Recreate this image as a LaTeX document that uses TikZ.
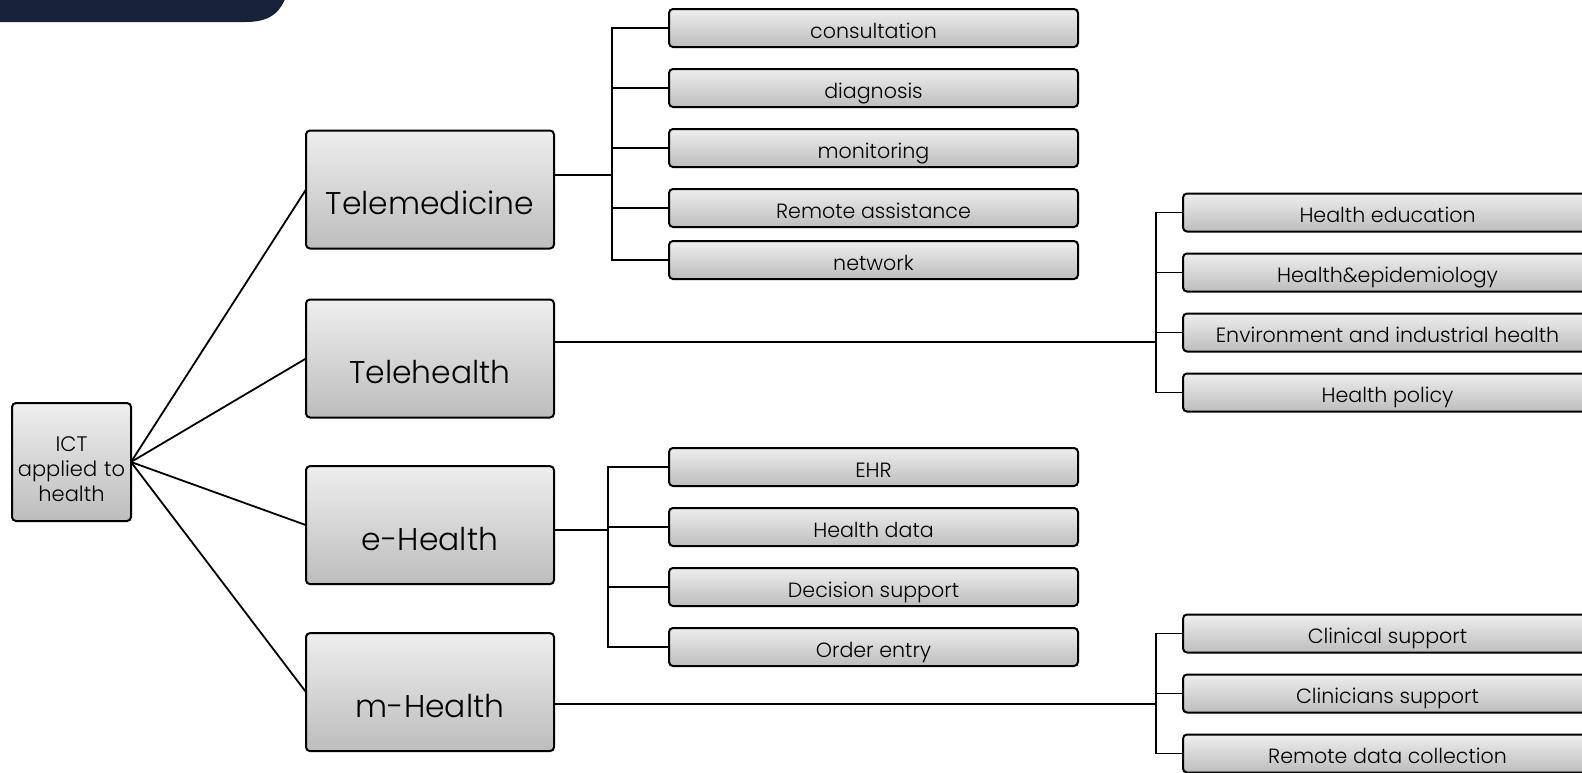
\documentclass[tikz,border=0pt]{standalone}
\usepackage{fontspec}
\setmainfont{Poppins Light}
\usetikzlibrary{positioning,shadings}

\definecolor{navy}{HTML}{16213A}
\definecolor{boxtop}{HTML}{EEEEEE}
\definecolor{boxbot}{HTML}{BDBDBD}

\tikzstyle{box} = [rectangle, rounded corners=2pt, draw=black, line width=1pt, top color=boxtop, bottom color=boxbot, inner sep=0pt, outer sep=0pt, text centered]
\tikzstyle{rootbox} = [box, minimum width=59.5pt, minimum height=59pt, text width=58pt, text depth=18pt, font=\fontsize{10.5}{12.5}\selectfont]
\tikzstyle{mainbox} = [box, minimum width=124pt, minimum height=59pt, text height=25pt, text depth=0pt, font=\fontsize{15.7}{18}\selectfont]
\tikzstyle{subbox} = [box, minimum width=204.5pt, minimum height=19pt, text height=10.3pt, text depth=0pt, font=\fontsize{10.3}{12}\selectfont]

\begin{document}
\begin{tikzpicture}[x=0.5pt,y=-0.5pt,node distance=30pt,line width=0.9pt]
\useasboundingbox (0,0) rectangle (1582,772);
\clip (0,0) rectangle (1582,772);

% title bar corner
\fill[navy] (0,-10) -- (288,-10) .. controls (282,14) and (268,22) .. (246,22) -- (0,22) -- cycle;

\node[rootbox] (ict) at (71.5,462) {ICT\\applied to\\health};

\node[mainbox] (tm) at (430,189.5) {Telemedicine};
\node[mainbox] (th) [below of=tm, node distance=84.5pt] {Telehealth};
\node[mainbox] (eh) [below of=th, node distance=83.3pt] {e-Health};
\node[mainbox] (mh) [below of=eh, node distance=83.5pt] {m-Health};

% telemedicine
\node[subbox] (consult) at (873.5,28) {consultation};
\node[subbox] (diag) [below of=consult] {diagnosis};
\node[subbox] (monit) [below of=diag] {monitoring};
\node[subbox] (assist) [below of=monit] {Remote assistance};
\node[subbox] (network) [below of=assist, yshift=4pt] {network};

% telehealth
\node[subbox] (hedu) at (1387.5,212.5) {Health education};
\node[subbox] (hepi) [below of=hedu] {Health\&epidemiology};
\node[subbox] (henv) [below of=hepi] {Environment and industrial health};
\node[subbox] (hpol) [below of=henv] {Health policy};

% e-health
\node[subbox] (ehr) at (873.5,467) {EHR};
\node[subbox] (hdata) [below of=ehr] {Health data};
\node[subbox] (decis) [below of=hdata] {Decision support};
\node[subbox] (order) [below of=decis] {Order entry};

% m-health
\node[subbox] (clin) at (1387.5,633.5) {Clinical support};
\node[subbox] (clinsup) [below of=clin] {Clinicians support};
\node[subbox] (rdata) [below of=clinsup] {Remote data collection};

\coordinate (tmj) at (612,175);
\coordinate (thj) at (1156,342);
\coordinate (ehj) at (608,530);
\coordinate (mhj) at (1156,704);

\draw (ict.east) -- (tm.west);
\draw (ict.east) -- (th.west);
\draw (ict.east) -- (eh.west);
\draw (ict.east) -- (mh.west);

\draw (tm.east |- tmj) -- (tmj);
\foreach \c in {consult,diag,monit,assist,network}
  \draw (tmj) |- (\c.west);

\draw (th.east |- thj) -- (thj);
\foreach \c in {hedu,hepi,henv,hpol}
  \draw (thj) |- (\c.west);

\draw (eh.east |- ehj) -- (ehj);
\foreach \c in {ehr,hdata,decis,order}
  \draw (ehj) |- (\c.west);

\draw (mh.east |- mhj) -- (mhj);
\foreach \c in {clin,clinsup,rdata}
  \draw (mhj) |- (\c.west);

\end{tikzpicture}
\end{document}
